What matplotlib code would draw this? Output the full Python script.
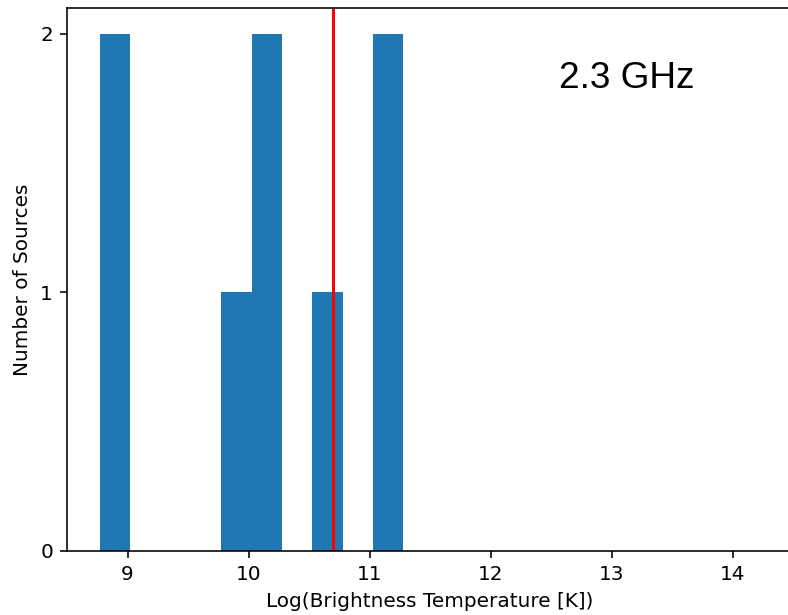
import matplotlib
matplotlib.use('Agg')
import matplotlib.pyplot as plt
import numpy as np

# histogram of log brightness temperature at 2.3 GHz
bin_edges = [8.77, 9.021, 9.272, 9.523, 9.774, 10.025, 10.276, 10.527, 10.778, 11.029, 11.28]
counts = [2, 0, 0, 0, 1, 2, 0, 1, 0, 2]
median_tb = 10.70
freq_label = '2.3 GHz'

dpi = 144
fig = plt.figure(figsize=(788 / dpi, 615 / dpi), dpi=dpi)
ax = fig.add_axes([67 / 788, (615 - 551) / 615, (793 - 67) / 788, (551 - 8) / 615])

ax.hist(bin_edges[:-1], bins=bin_edges, weights=counts, color='#1f77b4')
ax.axvline(median_tb, color='red', lw=1.5)

ax.set_xlim(8.5, 14.5)
ax.set_ylim(0, 2.1)
ax.set_yticks([0, 1, 2])
ax.set_xticks([9, 10, 11, 12, 13, 14])

ax.text(12.57, 1.79, freq_label, fontsize=18.5, family='Liberation Sans', va='baseline')

ax.set_xlabel('Log(Brightness Temperature [K])')
ax.set_ylabel('Number of Sources')

fig.savefig('out.png', dpi=dpi)
